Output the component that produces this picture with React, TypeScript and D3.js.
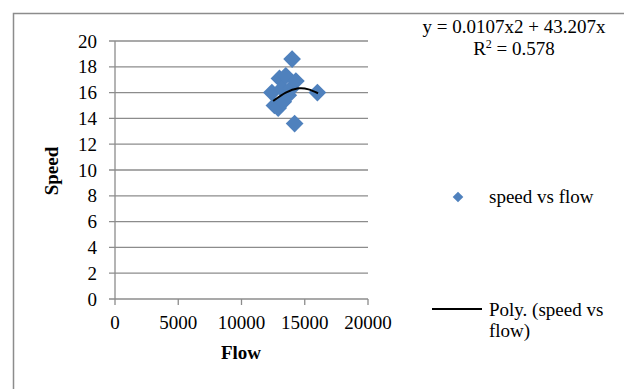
import React from "react";
import * as d3 from "d3";

const flow = [12400, 12600, 12900, 13000, 13200, 13300, 13500, 13700, 13900, 14000, 14300, 14200, 16000];
const speed = [16.0, 15.0, 14.8, 17.1, 16.3, 15.3, 17.3, 15.8, 16.3, 18.6, 16.9, 13.6, 16.0];
const trendFlow = [12500, 13500, 14500, 15300, 16050];
const trendSpeed = [15.35, 16.0, 16.33, 16.25, 15.95];
const xTicks = [0, 5000, 10000, 15000, 20000];
const yTicks = [0, 2, 4, 6, 8, 10, 12, 14, 16, 18, 20];

const W = 624, H = 389;
const FONT = "'Liberation Serif', 'Times New Roman', serif";
const BLUE = "#4F81BD";
const GRID = "#8c8c8c";

export default function App() {
  const x = d3.scaleLinear().domain([0, 20000]).range([115, 368]);
  const y = d3.scaleLinear().domain([0, 20]).range([299, 41]);
  const diamond = d3.symbol().type(d3.symbolDiamond2).size(200)();
  const legendDiamond = d3.symbol().type(d3.symbolDiamond2).size(72)();
  const trend = d3
    .line<number>()
    .x((_, i) => x(trendFlow[i]))
    .y((d) => y(d))
    .curve(d3.curveNatural)(trendSpeed);

  return (
    <svg width={W} height={H} style={{ position: "absolute", left: 0, top: 0, background: "#fff" }} fontFamily={FONT}>
      <rect x={0} y={0} width={W} height={H} fill="#fff" />
      {/* frame */}
      <path d={`M13.5,${H} V13.5 H${W}`} fill="none" stroke={GRID} strokeWidth={1.5} />
      {/* gridlines */}
      {yTicks.map((t) => (
        <line key={"g" + t} x1={x(0) - 6} x2={x(20000)} y1={y(t)} y2={y(t)} stroke={GRID} strokeWidth={1.3} />
      ))}
      {/* y axis */}
      <line x1={x(0)} x2={x(0)} y1={y(0)} y2={y(20)} stroke={GRID} strokeWidth={1.3} />
      {/* x ticks */}
      {xTicks.map((t) => (
        <line key={"xt" + t} x1={x(t)} x2={x(t)} y1={y(0)} y2={y(0) + 6} stroke={GRID} strokeWidth={1.3} />
      ))}
      {yTicks.map((t) => (
        <text key={"yl" + t} x={97} y={y(t)} dy="0.35em" textAnchor="end" fontSize={19} fill="#000">
          {t}
        </text>
      ))}
      {xTicks.map((t) => (
        <text key={"xl" + t} x={x(t)} y={329} textAnchor="middle" fontSize={19} fill="#000">
          {t}
        </text>
      ))}
      <text x={241} y={359} textAnchor="middle" fontSize={19} fontWeight="bold">
        Flow
      </text>
      <text transform={`translate(58,171) rotate(-90)`} textAnchor="middle" fontSize={19} fontWeight="bold">
        Speed
      </text>
      {/* points */}
      {flow.map((f, i) => (
        <path key={"p" + i} d={diamond} transform={`translate(${x(f)},${y(speed[i])})`} fill={BLUE} />
      ))}
      {/* trendline */}
      <path d={trend || ""} fill="none" stroke="#000" strokeWidth={2} />
      {/* equation */}
      <text x={514} y={33} textAnchor="middle" fontSize={19}>
        y = 0.0107x2 + 43.207x
      </text>
      <text x={514} y={55} textAnchor="middle" fontSize={19}>
        R<tspan dy={-7} fontSize={12}>2</tspan>
        <tspan dy={7}> = 0.578</tspan>
      </text>
      {/* legend */}
      <path d={legendDiamond} transform="translate(458,197)" fill={BLUE} />
      <text x={489} y={203} fontSize={19}>
        speed vs flow
      </text>
      <line x1={432} x2={482} y1={309} y2={309} stroke="#000" strokeWidth={2} />
      <text x={489} y={316} fontSize={19}>
        Poly. (speed vs
      </text>
      <text x={489} y={337} fontSize={19}>
        flow)
      </text>
    </svg>
  );
}
